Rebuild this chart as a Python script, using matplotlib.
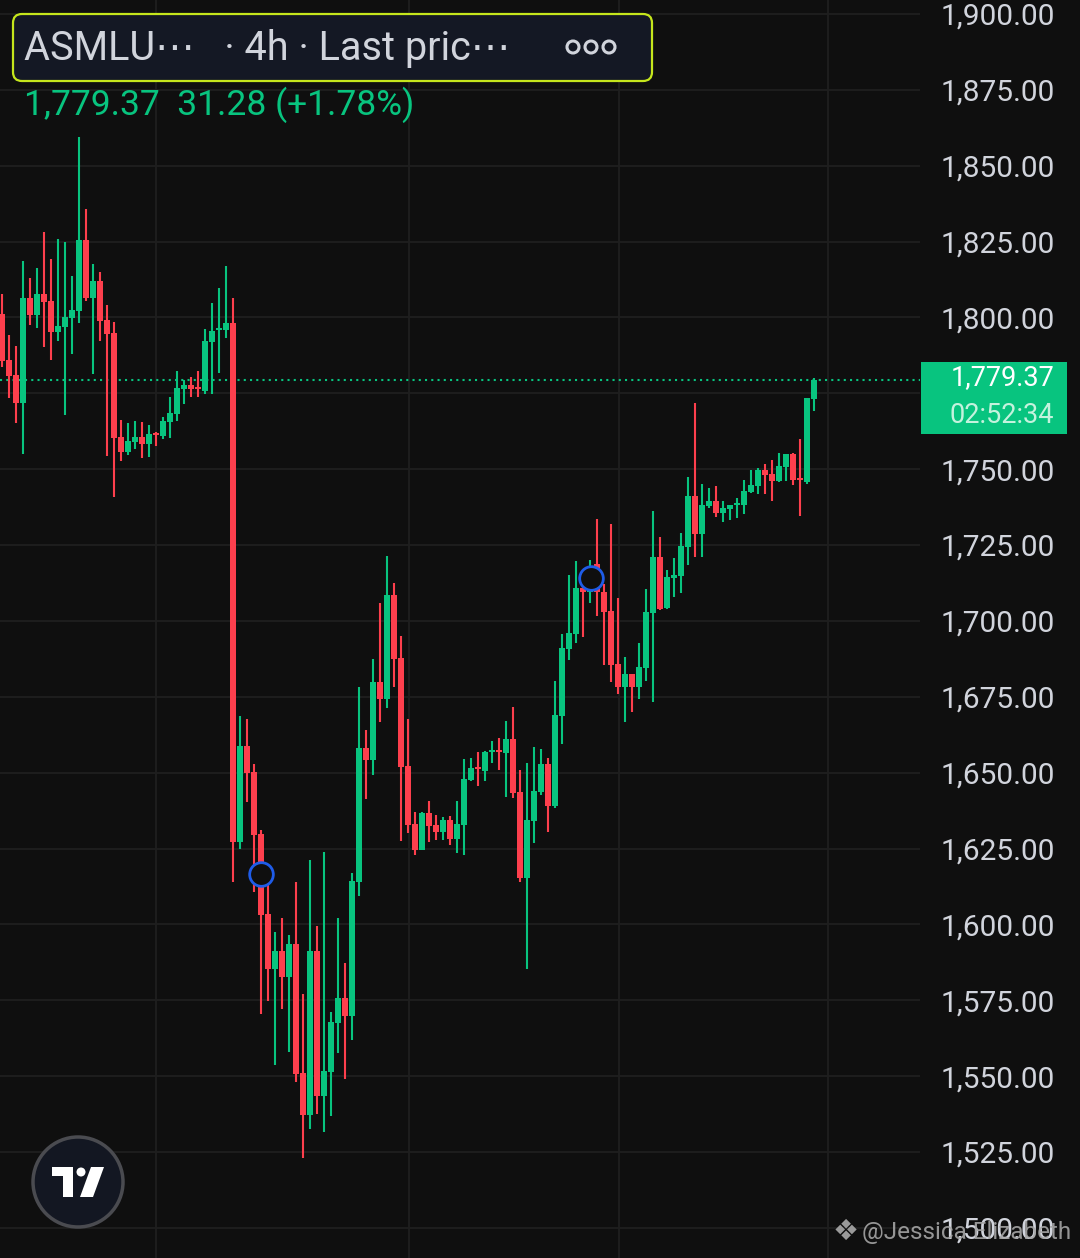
import numpy as np
import matplotlib.pyplot as plt
from matplotlib.patches import Circle, Polygon, Rectangle, FancyBboxPatch

# 4h candles (price units)
opens = [1801.2, 1786.0, 1781.1, 1771.8, 1806.4, 1800.8, 1807.7, 1805.4, 1795.2, 1796.9,
         1799.8, 1802.1, 1825.5, 1806.4, 1812.0, 1799.2, 1794.9, 1760.6, 1755.7, 1759.0,
         1760.6, 1758.3, 1761.9, 1761.0, 1765.6, 1768.2, 1776.4, 1777.8, 1776.8, 1775.8,
         1791.9, 1795.9, 1795.9, 1798.2, 1627.2, 1658.8, 1650.2, 1629.8, 1603.5, 1585.3,
         1591.3, 1582.7, 1593.6, 1551.1, 1537.2, 1591.3, 1543.5, 1551.4, 1567.5, 1575.8,
         1569.9, 1614.0, 1658.2, 1654.2, 1679.9, 1674.3, 1708.6, 1687.8, 1652.2, 1633.1,
         1624.5, 1636.7, 1632.8, 1630.5, 1634.4, 1628.2, 1632.8, 1647.6, 1651.9, 1650.6,
         1656.8, 1657.5, 1656.5, 1661.1, 1643.7, 1615.3, 1634.1, 1643.7, 1652.9, 1639.0,
         1668.7, 1690.8, 1695.7, 1710.9, 1709.6, 1718.8, 1709.6, 1703.3, 1685.8, 1678.3,
         1682.5, 1678.3, 1684.5, 1702.6, 1721.1, 1704.3, 1714.2, 1714.8, 1724.4, 1741.2,
         1728.7, 1737.9, 1739.5, 1735.6, 1736.9, 1738.2, 1738.2, 1742.5, 1744.5, 1749.8,
         1748.4, 1746.1, 1750.7, 1755.0, 1747.1, 1745.8, 1773.1]
highs = [1807.7, 1794.2, 1790.6, 1818.6, 1813.0, 1816.3, 1828.2, 1819.3, 1825.9, 1824.9,
         1813.7, 1859.5, 1835.8, 1817.6, 1815.0, 1804.1, 1798.5, 1766.2, 1765.2, 1765.9,
         1765.6, 1764.6, 1762.3, 1767.2, 1773.8, 1782.4, 1779.4, 1780.4, 1782.4, 1796.2,
         1804.8, 1809.7, 1817.0, 1806.4, 1668.7, 1667.7, 1652.9, 1631.0, 1613.0, 1597.5,
         1602.1, 1596.5, 1614.0, 1577.1, 1621.3, 1599.5, 1623.9, 1571.2, 1602.1, 1587.3,
         1617.0, 1678.3, 1664.1, 1687.5, 1705.9, 1721.4, 1712.5, 1695.1, 1667.7, 1637.1,
         1637.1, 1640.7, 1636.1, 1635.4, 1635.8, 1640.7, 1654.5, 1654.9, 1656.8, 1657.2,
         1660.5, 1661.5, 1667.1, 1671.7, 1650.9, 1653.2, 1658.5, 1657.8, 1654.9, 1680.2,
         1695.7, 1715.2, 1719.8, 1712.2, 1720.1, 1733.6, 1712.2, 1732.0, 1707.6, 1688.1,
         1682.5, 1692.8, 1710.5, 1736.2, 1727.7, 1716.8, 1720.8, 1729.0, 1747.4, 1771.8,
         1745.1, 1743.8, 1744.5, 1739.5, 1738.2, 1740.5, 1746.5, 1749.8, 1750.4, 1751.7,
         1753.0, 1755.4, 1755.0, 1755.4, 1760.0, 1773.5, 1780.1]
lows = [1783.7, 1773.5, 1765.2, 1755.0, 1797.5, 1796.5, 1790.3, 1786.0, 1792.3, 1767.9,
        1788.0, 1798.2, 1805.4, 1781.4, 1792.3, 1754.4, 1740.9, 1752.7, 1754.7, 1756.7,
        1753.7, 1754.0, 1757.7, 1760.0, 1760.3, 1765.9, 1771.5, 1773.8, 1773.8, 1774.8,
        1774.8, 1781.7, 1793.2, 1614.0, 1624.9, 1640.4, 1610.7, 1570.5, 1574.8, 1553.7,
        1572.2, 1558.0, 1548.1, 1523.1, 1532.6, 1537.6, 1531.6, 1536.9, 1557.7, 1549.1,
        1561.9, 1609.4, 1641.4, 1649.3, 1666.7, 1671.3, 1678.3, 1627.5, 1630.1, 1622.9,
        1624.5, 1627.2, 1627.8, 1627.8, 1626.2, 1623.6, 1622.9, 1647.3, 1645.6, 1647.3,
        1653.2, 1650.9, 1642.0, 1641.7, 1614.0, 1585.3, 1626.8, 1642.7, 1630.5, 1638.4,
        1659.5, 1687.2, 1692.8, 1694.7, 1705.9, 1701.6, 1685.5, 1679.9, 1675.9, 1666.7,
        1670.0, 1674.3, 1680.2, 1673.3, 1703.6, 1704.0, 1707.9, 1709.2, 1718.5, 1721.1,
        1721.1, 1737.2, 1734.3, 1732.6, 1733.3, 1733.9, 1735.3, 1742.2, 1741.8, 1741.8,
        1739.5, 1745.8, 1746.1, 1744.8, 1734.6, 1745.1, 1769.2]
closes = [1785.7, 1780.7, 1771.8, 1806.4, 1800.8, 1807.7, 1805.1, 1795.2, 1797.2, 1800.2,
          1802.5, 1825.5, 1806.4, 1812.0, 1798.8, 1794.6, 1760.3, 1755.7, 1759.3, 1760.6,
          1758.3, 1761.6, 1761.3, 1765.9, 1768.5, 1776.8, 1777.8, 1776.4, 1776.4, 1792.3,
          1795.6, 1796.5, 1798.2, 1627.2, 1658.8, 1649.9, 1629.5, 1603.1, 1585.3, 1591.3,
          1582.7, 1593.6, 1550.7, 1537.2, 1591.3, 1543.5, 1551.7, 1567.9, 1575.8, 1569.9,
          1614.3, 1658.2, 1654.2, 1679.9, 1674.3, 1708.6, 1687.5, 1651.9, 1632.8, 1624.5,
          1636.7, 1632.5, 1630.5, 1634.4, 1628.2, 1633.1, 1647.9, 1651.6, 1651.2, 1656.8,
          1657.5, 1656.8, 1661.1, 1643.3, 1615.3, 1634.4, 1644.0, 1652.9, 1639.0, 1669.0,
          1691.1, 1696.0, 1710.9, 1709.6, 1711.5, 1709.6, 1703.0, 1685.5, 1678.3, 1682.5,
          1678.3, 1684.8, 1703.0, 1721.1, 1704.0, 1714.5, 1715.2, 1724.7, 1741.2, 1728.7,
          1738.2, 1739.5, 1735.6, 1737.2, 1738.2, 1738.9, 1742.8, 1744.8, 1749.8, 1748.1,
          1746.1, 1751.1, 1755.0, 1746.5, 1746.5, 1773.5, 1779.37]

price_ticks = [1500, 1525, 1550, 1575, 1600, 1625, 1650, 1675, 1700, 1725,
               1750, 1775, 1800, 1825, 1850, 1875, 1900]
day_breaks = [22, 58.1, 88.1, 118]          # bar index of the vertical grid lines
event_bars = [37, 84.1]                     # blue circle markers
event_prices = [1616.6, 1714.2]

symbol_text = "ASMLU\u22ef   \u00b7 4h \u00b7 Last pric\u22ef"
change_abs = 31.28
change_pct = 1.78
countdown = "02:52:34"

BG = "#0f0f0f"
GRID = "#1f1f1f"
UP = "#08c47f"
DOWN = "#fd3f4d"
TXT = "#d1d4dc"
FONT = ["Roboto", "DejaVu Sans"]

plt.rcParams["font.family"] = FONT

W, H = 1080, 1258
fig = plt.figure(figsize=(W / 100, H / 100), dpi=100)
fig.patch.set_facecolor(BG)

plot_w = 920
ax = fig.add_axes([0, 0, plot_w / W, 1])
ax.set_facecolor(BG)
for s in ax.spines.values():
    s.set_visible(False)

spacing = 7.0   # px per bar
ax.set_xlim(-2 / spacing, -2 / spacing + plot_w / spacing)
ax.set_ylim(1490.1, 1904.6)

o = np.array(opens)
c = np.array(closes)
hi = np.array(highs)
lo = np.array(lows)
idx = np.arange(len(o))
up = c >= o
cols = np.where(up, UP, DOWN)

ax.vlines(idx, lo, hi, colors=cols, linewidth=1.5, zorder=3)
bottoms = np.minimum(o, c)
heights = np.maximum(np.abs(c - o), 0.6)
ax.bar(idx, heights, bottom=bottoms, width=0.9, color=cols, linewidth=0, zorder=4)

# grid
ax.set_yticks(price_ticks)
ax.set_yticklabels([f"{v:,.2f}" for v in price_ticks])
ax.yaxis.tick_right()
ax.tick_params(axis="y", length=0, pad=14.5, labelsize=21.5, labelcolor=TXT)
ax.set_xticks([])
ax.grid(axis="y", color=GRID, linewidth=1.3, zorder=0)
for d in day_breaks:
    ax.axvline(d, color=GRID, linewidth=1.3, zorder=0)

# last price line
last = closes[-1]
ax.axhline(last, color=UP, linewidth=1.5, linestyle=(0, (1, 2)), zorder=2)

# event markers
ax.scatter(event_bars, event_prices, s=290, facecolors=BG, edgecolors="#1f5ce8",
           linewidths=2.0, zorder=6)

# last price tag on the scale
ytr = ax.get_yaxis_transform()
ax.add_patch(Rectangle((921 / plot_w, last - 17.7), 146 / plot_w, 23.7,
                       transform=ytr, clip_on=False, facecolor=UP, edgecolor="none",
                       zorder=7))
ax.text(1054 / plot_w, last + 0.8, f"{last:,.2f}", transform=ytr, ha="right", va="center",
        fontsize=19.5, color="white", zorder=8, clip_on=False)
ax.text(1054 / plot_w, last - 11.6, countdown, transform=ytr, ha="right", va="center",
        fontsize=19.5, color="#c4f2dd", zorder=8, clip_on=False)

# overlay in pixel coordinates for the chrome
deco = fig.add_axes([0, 0, 1, 1], facecolor="none")
deco.set_xlim(0, W)
deco.set_ylim(H, 0)
deco.axis("off")

deco.add_patch(FancyBboxPatch((13, 14), 639, 67, boxstyle="round,pad=0,rounding_size=9",
                              facecolor="#141824", edgecolor="#c5e61c", linewidth=1.6))
deco.text(24, 48, symbol_text, ha="left", va="center", fontsize=28.5, color=TXT)
for cx in (573, 591, 609):
    deco.add_patch(Circle((cx, 47), 6, facecolor="none", edgecolor=TXT, linewidth=2.2))
deco.text(24, 105, f"{last:,.2f}  {change_abs:.2f} (+{change_pct:.2f}%)", ha="left",
          va="center", fontsize=25.5, color=UP)

# TradingView badge
deco.add_patch(Circle((78, 1182), 45, facecolor="#131722", edgecolor="#4a4b50", linewidth=2.5))
deco.add_patch(Polygon([(52, 1167), (73, 1167), (73, 1197), (63, 1197), (63, 1176), (52, 1176)],
                       closed=True, facecolor="white", edgecolor="none"))
deco.add_patch(Circle((81, 1172), 4.5, facecolor="white", edgecolor="none"))
deco.add_patch(Polygon([(91, 1167), (104, 1167), (93, 1197), (80, 1197)],
                       closed=True, facecolor="white", edgecolor="none"))

# watermark
deco.text(846, 1232, "\u2756", ha="center", va="center", fontsize=21, color="#9a9a9a",
          family=["DejaVu Sans"])
deco.text(862, 1232, "@Jessica Elizabeth", ha="left", va="center", fontsize=17.5,
          color="#a5a5a5", alpha=0.9)

fig.savefig("out.png", dpi=100, facecolor=BG)
